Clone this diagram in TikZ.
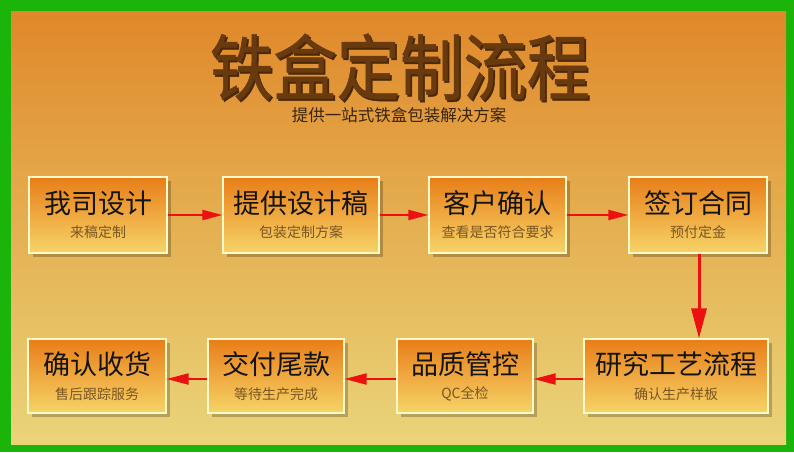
\documentclass[tikz,border=0pt]{standalone}
\usepackage{fontspec}
\setmainfont{Noto Sans CJK SC}
\newfontfamily\cjk{Noto Sans CJK SC}
\newfontfamily\titlefont[FakeBold=0.7]{Noto Sans CJK SC}
\usetikzlibrary{arrows.meta,shadows}
\definecolor{framegreen}{RGB}{26,180,10}
\definecolor{bgtop}{RGB}{224,136,42}
\definecolor{bgbot}{RGB}{234,212,122}
\definecolor{boxtop}{RGB}{232,126,24}
\definecolor{boxbot}{RGB}{246,212,104}
\definecolor{boxline}{RGB}{255,250,200}
\definecolor{subtxt}{RGB}{122,86,34}
\definecolor{titlebrown}{RGB}{104,58,14}
\definecolor{titleshadow}{RGB}{74,40,8}
\definecolor{arrowred}{RGB}{236,16,16}
\newcommand{\shadowtitle}[1]{\rlap{\kern2pt\raisebox{-2pt}[0pt][0pt]{\color{titleshadow}#1}}#1}
\tikzset{
  stepbox/.style={rectangle, draw=boxline, line width=1.2pt, top color=boxtop, bottom color=boxbot,
    minimum height=#1, inner sep=0pt,
    drop shadow={shadow xshift=4pt, shadow yshift=-4pt, fill=black, opacity=0.22}},
  maintxt/.style={font=\cjk\fontsize{27}{30}\selectfont, text=black!92, inner sep=0pt},
  subtxt/.style={font=\cjk\fontsize{14}{16}\selectfont, text=subtxt, inner sep=0pt},
  titletxt/.style={font=\titlefont\fontsize{72}{76}\selectfont, xscale=0.88, inner sep=0pt},
  flow/.style={draw=arrowred, line width=2pt, -{Triangle[length=20pt,width=10pt]}, arrowred},
  flowb/.style={draw=arrowred, line width=2pt, -{Triangle[length=22pt,width=11pt]}, arrowred},
  flowv/.style={draw=arrowred, line width=3pt, -{Triangle[length=30pt,width=15pt]}, arrowred},
}
\begin{document}
\begin{tikzpicture}[x=1pt,y=-1pt]
\useasboundingbox (0,0) rectangle (794,452);
\fill[framegreen] (0,0) rectangle (794,452);
\shade[top color=bgtop, bottom color=bgbot, middle color={rgb,255:red,228;green,176;blue,82}] (11,12) rectangle (786,444);
% title
\node (title) [titletxt, text=titlebrown] at (400,67) {\shadowtitle{铁盒定制流程}};
\node (subtitle) [text={rgb,255:red,58;green,36;blue,14}, font=\cjk\fontsize{16.5}{18}\selectfont, inner sep=0pt] at (399,115) {提供一站式铁盒包装解决方案};
% top row boxes
\node (b1) [stepbox=76pt, minimum width=138pt] at (98,215) {};
\node (b2) [stepbox=76pt, minimum width=156pt] at (301,215) {};
\node (b3) [stepbox=76pt, minimum width=137pt] at (497.5,215) {};
\node (b4) [stepbox=76pt, minimum width=138pt] at (698,215) {};
% bottom row boxes
\node (b5) [stepbox=74pt, minimum width=184pt] at (676,376) {};
\node (b6) [stepbox=74pt, minimum width=136pt] at (465,376) {};
\node (b7) [stepbox=74pt, minimum width=136pt] at (276,376) {};
\node (b8) [stepbox=74pt, minimum width=138pt] at (97,376) {};
% texts
\node (t1) [maintxt] at (98,203) {我司设计};
\node (s1) [subtxt] at (98,232) {来稿定制};
\node (t2) [maintxt] at (301,203) {提供设计稿};
\node (s2) [subtxt] at (301,232) {包装定制方案};
\node (t3) [maintxt] at (497.5,203) {客户确认};
\node (s3) [subtxt] at (497.5,232) {查看是否符合要求};
\node (t4) [maintxt] at (698,203) {签订合同};
\node (s4) [subtxt] at (698,232) {预付定金};
\node (t5) [maintxt] at (676,364) {研究工艺流程};
\node (s5) [subtxt] at (676,394) {确认生产样板};
\node (t6) [maintxt] at (465,364) {品质管控};
\node (s6) [subtxt] at (465,394) {QC全检};
\node (t7) [maintxt] at (276,364) {交付尾款};
\node (s7) [subtxt] at (276,394) {等待生产完成};
\node (t8) [maintxt] at (97,364) {确认收货};
\node (s8) [subtxt] at (97,394) {售后跟踪服务};
% arrows
\draw[flow] (b1.east) -- (b2.west);
\draw[flow] (b2.east) -- (b3.west);
\draw[flow] (b3.east) -- (b4.west);
\draw[flowv] ([xshift=1pt]b4.south) -- ([xshift=1pt]b4.south |- b5.north);
\draw[flowb] ([yshift=-3pt]b5.west) -- ([yshift=-3pt]b6.east);
\draw[flowb] ([yshift=-3pt]b6.west) -- ([yshift=-3pt]b7.east);
\draw[flowb] ([yshift=-3pt]b7.west) -- ([yshift=-3pt]b8.east);
\end{tikzpicture}
\end{document}
